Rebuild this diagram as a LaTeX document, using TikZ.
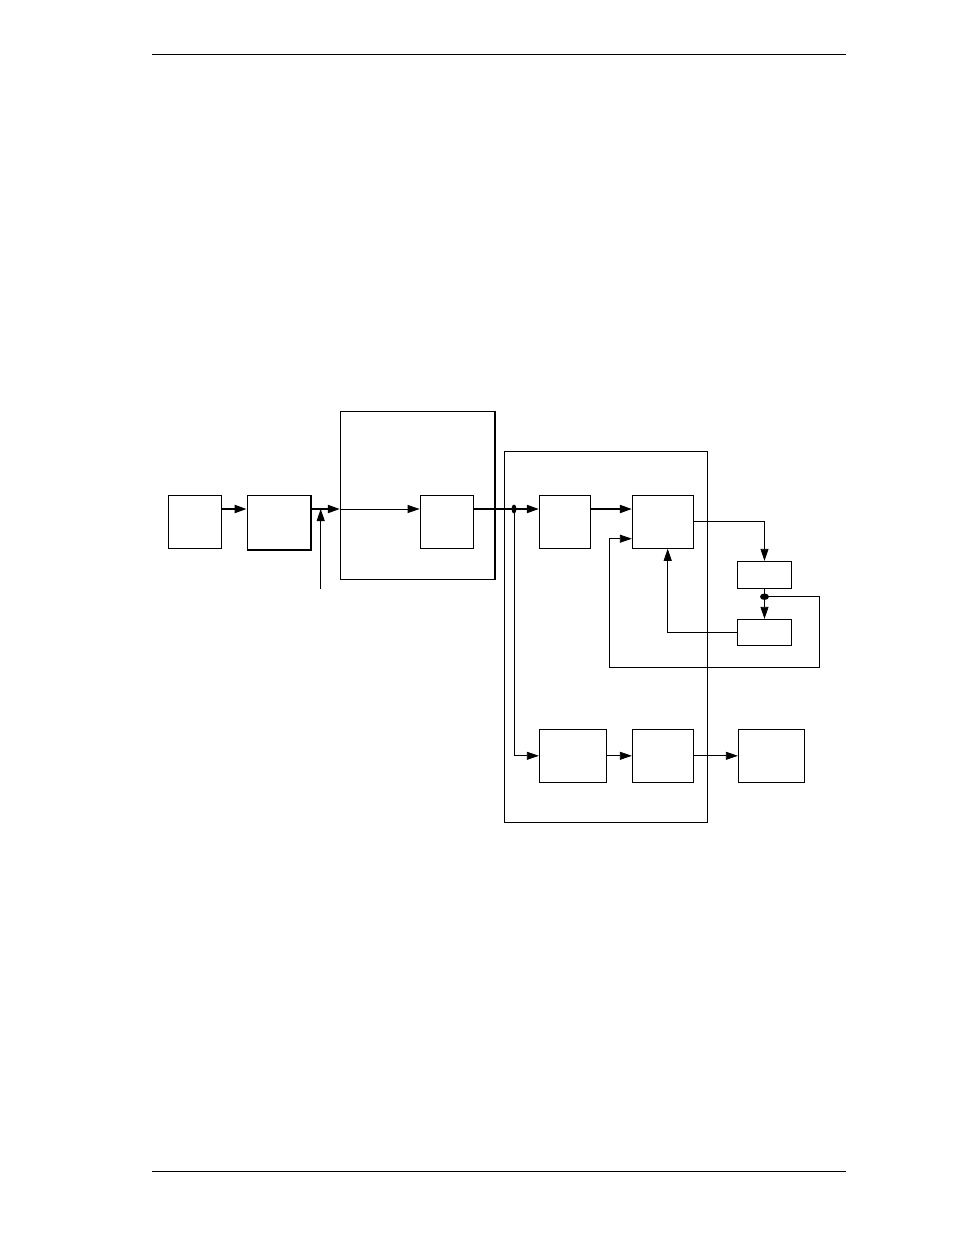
\documentclass[tikz,border=0pt]{standalone}
\usetikzlibrary{arrows.meta,calc,shapes.geometric}
\begin{document}
\begin{tikzpicture}[x=1pt,y=-1pt,
  box/.style={draw,line width=0.9pt,rectangle,inner sep=0pt,minimum width=#1},
  thin/.style={line width=0.8pt},
  thick2/.style={line width=2pt},
  arr/.style={-{Triangle[length=12pt,width=8pt]}},
  dot/.style={fill,ellipse,inner sep=0pt,minimum width=5pt,minimum height=9pt},
  hdot/.style={fill,ellipse,inner sep=0pt,minimum width=9pt,minimum height=6.5pt}
]
\useasboundingbox (0,0) rectangle (954,1235);
% page rules
\coordinate (hl) at (152,54); \coordinate (hr) at (846,54);
\coordinate (fl) at (152,1171); \coordinate (fr) at (846,1171);
\draw[line width=0.9pt] (hl) -- (hr);
\draw[line width=0.9pt] (fl) -- (fr);
% boxes
\node[box=53pt,minimum height=53pt] (A) at (194.8,521.8) {};
\node[box=63.3pt,minimum height=54pt] (B) at (278.7,522.3) {};
\draw[line width=1.5pt] (B.north east) -- (B.south east) -- (B.south west);
\node[box=154pt,minimum height=168pt] (Big1) at (417.3,495.3) {};
\draw[line width=1.5pt] (Big1.north east) -- (Big1.south east);
\node[box=53.3pt,minimum height=53pt] (C) at (446.7,521.8) {};
\node[box=203.4pt,minimum height=371pt] (Big2) at (606,636.8) {};
\node[box=51.4pt,minimum height=53pt] (D) at (565,521.8) {};
\node[box=61.4pt,minimum height=53pt] (E) at (663,521.8) {};
\node[box=53.4pt,minimum height=27pt] (F) at (764.5,574.8) {};
\node[box=53.4pt,minimum height=26pt] (G) at (764.5,632.3) {};
\node[box=67pt,minimum height=53pt] (H) at (572.8,755.8) {};
\node[box=61.4pt,minimum height=53pt] (I) at (663,755.8) {};
\node[box=66.4pt,minimum height=53pt] (J) at (771.5,755.8) {};
% helper coordinates
\coordinate (main) at (0,509);
\coordinate (in) at (320.7,589);
\node[dot] (j1) at (514,509) {};
\node[hdot] (j2) at (764.5,596.7) {};
\coordinate (eo) at (0,521);
\coordinate (fbx) at (667.7,0);
\coordinate (lp) at (609.7,538.7);
\coordinate (rr) at (819.3,596.7);
\coordinate (bot) at (0,667);
% connectors
\draw[thick2,arr] (A.east |- main) -- (B.west |- main);
\draw[thick2,arr] (B.east |- main) -- (Big1.west |- main);
\draw[thin,arr] (in) -- (in |- main);
\draw[thin,arr] (Big1.west |- main) -- (C.west |- main);
\draw[thick2,arr] (C.east |- main) -- (j1.center) -- (D.west |- main);
\draw[thick2,arr] (D.east |- main) -- (E.west |- main);
\draw[thin,arr] (E.east |- eo) -| (F.north);
\draw[thin,arr] (F.south) -- (j2.center) -- (G.north);
\draw[thin,arr] (G.west) -| (fbx |- E.south);
\draw[thin,arr] (j2.center) -- (rr) -- (rr |- bot) -- (lp |- bot) -- (lp) -- (E.west |- lp);
\draw[thin,arr] (j1.center) |- (H.west);
\draw[thin,arr] (H.east) -- (I.west);
\draw[thin,arr] (I.east) -- (J.west);
\end{tikzpicture}
\end{document}
